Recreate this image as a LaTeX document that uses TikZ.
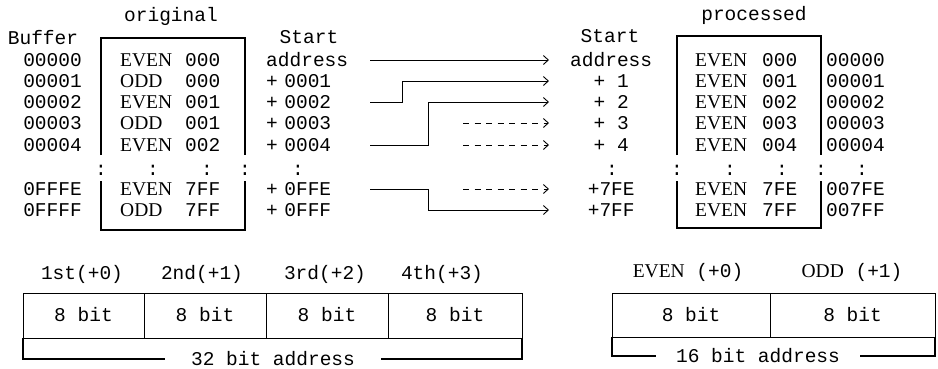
\documentclass[tikz,border=0pt]{standalone}
\usepackage{fontspec}
\setmainfont{Liberation Serif}
\setmonofont{Liberation Mono}
\usepackage{tikz}
\usetikzlibrary{arrows.meta, positioning}

\begin{document}
\begin{tikzpicture}[x=1pt, y=-1pt,
  font=\fontsize{19.5}{22}\selectfont\ttfamily,
  txt/.style={inner sep=0pt, text height=12pt, text depth=0pt},
  lcol/.style={txt, anchor=west, text width=104pt, align=left},
  rcol/.style={txt, anchor=west, minimum width=112pt, align=center},
  cell/.style={txt, draw, line width=1pt, anchor=north west, outer sep=0pt, minimum height=45pt},
  arr/.style={line width=0.9pt, -{Straight Barb[length=5pt, width=9pt]}, shorten >=6pt},
  dots/.style={dash pattern=on 6pt off 5.5pt},
  box/.style={line width=1.1pt}]
\useasboundingbox (0,0) rectangle (938,368);

% Titles
\node[txt] (orig) at (171,15) {original};
\node[txt] (proc) at (754,14) {processed};

% Buffer column
\node[txt] (buflabel) at (43,38) {Buffer};
\node[txt, anchor=east] (buf0) at (82,60) {00000};
\node[txt, anchor=east] (buf1) at (82,81) {00001};
\node[txt, anchor=east] (buf2) at (82,102) {00002};
\node[txt, anchor=east] (buf3) at (82,123) {00003};
\node[txt, anchor=east] (buf4) at (82,145) {00004};
\node[txt, anchor=east] (buffe) at (82,189) {0FFFE};
\node[txt, anchor=east] (bufff) at (82,210) {0FFFF};

% Original box
\draw[box] (101,155) |- (245,38) -- (245,155);
\draw[box] (101,181) |- (245,230) -- (245,181);
\node[txt, anchor=west] (lb0) at (120,60) {\makebox[65pt][l]{\rmfamily EVEN}000};
\node[txt, anchor=west] (lb1) at (120,81) {\makebox[65pt][l]{\rmfamily ODD}000};
\node[txt, anchor=west] (lb2) at (120,102) {\makebox[65pt][l]{\rmfamily EVEN}001};
\node[txt, anchor=west] (lb3) at (120,123) {\makebox[65pt][l]{\rmfamily ODD}001};
\node[txt, anchor=west] (lb4) at (120,145) {\makebox[65pt][l]{\rmfamily EVEN}002};
\node[txt, anchor=west] (lbfe) at (120,189) {\makebox[65pt][l]{\rmfamily EVEN}7FF};
\node[txt, anchor=west] (lbff) at (120,210) {\makebox[65pt][l]{\rmfamily ODD}7FF};
\node[txt] (ld1) at (101,169) {:};
\node[txt] (ld2) at (153,169) {:};
\node[txt] (ld3) at (207,169) {:};
\node[txt] (ld4) at (245,169) {:};

% Start address (original)
\node[txt] (lstart) at (309,37) {Start};
\node[lcol] (l0) at (266,60) {address};
\node[lcol] (l1) at (266,81) {+ 0001};
\node[lcol] (l2) at (266,102) {+ 0002};
\node[lcol] (l3) at (266,123) {+ 0003};
\node[lcol] (l4) at (266,145) {+ 0004};
\node[txt] (ld5) at (298,169) {:};
\node[lcol] (lfe) at (266,189) {+ 0FFE};
\node[lcol] (lff) at (266,210) {+ 0FFF};

% Start address (processed)
\node[txt] (rstart) at (610,36) {Start};
\node[rcol] (r0) at (555,60) {address};
\node[rcol] (r1) at (555,81) {+ 1};
\node[rcol] (r2) at (555,102) {+ 2};
\node[rcol] (r3) at (555,123) {+ 3};
\node[rcol] (r4) at (555,145) {+ 4};
\node[txt] (rd1) at (612,169) {:};
\node[rcol] (rfe) at (555,189) {+7FE};
\node[rcol] (rff) at (555,210) {+7FF};

% Connectors
\coordinate (d3) at (463,123);
\coordinate (d4) at (463,145);
\coordinate (dfe) at (463,189);
\draw[arr] (l0.east) -- (r0.west);
\draw[arr] (l2.east) -- ++(32,0) |- (r1.west);
\draw[arr] (l4.east) -- ++(58,0) |- (r2.west);
\draw[arr] (lfe.east) -- ++(58,0) |- (rff.west);
\draw[arr, dots] (d3) -- (r3.west);
\draw[arr, dots] (d4) -- (r4.west);
\draw[arr, dots] (dfe) -- (rfe.west);

% Processed box
\draw[box] (677,155) |- (821,36) -- (821,155);
\draw[box] (677,181) |- (821,228) -- (821,181);
\node[txt, anchor=west] (rb0) at (695,60) {\makebox[67pt][l]{\rmfamily EVEN}000};
\node[txt, anchor=west] (rb1) at (695,81) {\makebox[67pt][l]{\rmfamily EVEN}001};
\node[txt, anchor=west] (rb2) at (695,102) {\makebox[67pt][l]{\rmfamily EVEN}002};
\node[txt, anchor=west] (rb3) at (695,123) {\makebox[67pt][l]{\rmfamily EVEN}003};
\node[txt, anchor=west] (rb4) at (695,145) {\makebox[67pt][l]{\rmfamily EVEN}004};
\node[txt, anchor=west] (rbfe) at (695,189) {\makebox[67pt][l]{\rmfamily EVEN}7FE};
\node[txt, anchor=west] (rbff) at (695,210) {\makebox[67pt][l]{\rmfamily EVEN}7FF};
\node[txt] (rd2) at (677,169) {:};
\node[txt] (rd3) at (730,169) {:};
\node[txt] (rd4) at (782,169) {:};
\node[txt] (rd5) at (821,169) {:};

% New buffer column
\node[txt, anchor=west] (nb0) at (826,60) {00000};
\node[txt, anchor=west] (nb1) at (826,81) {00001};
\node[txt, anchor=west] (nb2) at (826,102) {00002};
\node[txt, anchor=west] (nb3) at (826,123) {00003};
\node[txt, anchor=west] (nb4) at (826,145) {00004};
\node[txt] (rd6) at (862,169) {:};
\node[txt, anchor=west] (nbfe) at (826,189) {007FE};
\node[txt, anchor=west] (nbff) at (826,210) {007FF};

% 32 bit address
\node[txt] (h1) at (82,273) {1st(+0)};
\node[txt] (h2) at (202,273) {2nd(+1)};
\node[txt] (h3) at (325,273) {3rd(+2)};
\node[txt] (h4) at (442,273) {4th(+3)};
\node[cell, minimum width=121pt] (c1) at (23,293) {8 bit};
\node[cell, minimum width=122pt] (c2) at (144,293) {8 bit};
\node[cell, minimum width=122pt] (c3) at (266,293) {8 bit};
\node[cell, minimum width=134pt] (c4) at (388,293) {8 bit};
\node[txt, inner xsep=26pt] (a32) at (273,359) {32 bit address};
\draw[box] (a32.west) -| (c1.south west);
\draw[box] (a32.east) -| (c4.south east);

% 16 bit address
\node[txt] (g1) at (688,271) {{\rmfamily EVEN} (+0)};
\node[txt] (g2) at (852,271) {{\rmfamily ODD} (+1)};
\node[cell, minimum width=158pt, minimum height=44pt] (e1) at (612,293) {8 bit};
\node[cell, minimum width=165pt, minimum height=44pt] (e2) at (770,293) {8 bit};
\node[txt, inner xsep=20pt] (a16) at (758,356) {16 bit address};
\draw[box] (a16.west) -| (e1.south west);
\draw[box] (a16.east) -| (e2.south east);
\end{tikzpicture}
\end{document}
